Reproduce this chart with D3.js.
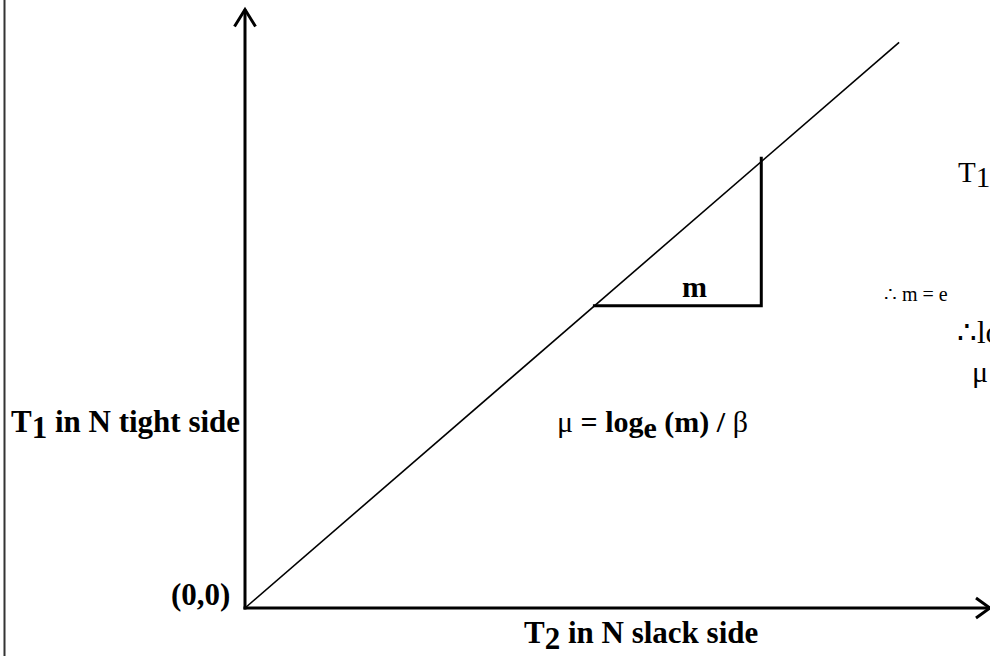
<!DOCTYPE html>
<html>
<head>
<meta charset="utf-8">
<script src="https://cdn.jsdelivr.net/npm/d3@7/dist/d3.min.js"></script>
<style>
  html, body { margin: 0; padding: 0; background: #fff; overflow: hidden; }
  svg { display: block; }
  text { font-family: "Liberation Serif", "Times New Roman", serif; fill: #000; }
</style>
</head>
<body>
<svg id="chart" width="990" height="656"></svg>
<script>
// ---- data (diagram units: T2 on x, T1 on y) ----
const lineT2 = [0, 87.8];          // straight line T1 = m * T2 through origin
const lineT1 = [0, 94.5];
const triT2 = [46.7, 69.3, 69.3];  // slope triangle corners
const triT1 = [50.5, 50.5, 75.4];
const axisMax = [100, 100];        // axis ends (arrow tips)
const xLabel = "T2 in N slack side";
const yLabel = "T1 in N tight side";

const svg = d3.select("#chart");
const W = 990, H = 656;

const x = d3.scaleLinear().domain([0, 100]).range([245, 990]);
const y = d3.scaleLinear().domain([0, 100]).range([608, 9.5]);

// left frame line
svg.append("line").attr("x1", 4.5).attr("x2", 4.5).attr("y1", 0).attr("y2", H)
  .attr("stroke", "#333").attr("stroke-width", 2);

// axes
const axG = svg.append("g").attr("stroke", "#000").attr("stroke-width", 3).attr("fill", "none")
  .attr("stroke-linecap", "butt");
axG.append("line").attr("x1", x(0)).attr("y1", y(0) + 1.5).attr("x2", x(0)).attr("y2", y(axisMax[1]));
axG.append("line").attr("x1", x(0) - 1.5).attr("y1", y(0)).attr("x2", x(axisMax[0])).attr("y2", y(0));
// arrow heads (open chevrons)
axG.append("path").attr("d", d3.line()([[x(0) - 10.5, y(axisMax[1]) + 17], [x(0), y(axisMax[1])], [x(0) + 10.5, y(axisMax[1]) + 17]]));
axG.append("path").attr("d", d3.line()([[x(axisMax[0]) - 14, y(0) - 10], [x(axisMax[0]), y(0)], [x(axisMax[0]) - 14, y(0) + 10]]));

// main line
svg.append("path")
  .datum(lineT2.map((d, i) => [d, lineT1[i]]))
  .attr("d", d3.line().x(d => x(d[0])).y(d => y(d[1])))
  .attr("stroke", "#000").attr("stroke-width", 1.6).attr("fill", "none");

// slope triangle
svg.append("path")
  .datum(triT2.map((d, i) => [d, triT1[i]]))
  .attr("d", d3.line().x(d => x(d[0])).y(d => y(d[1])))
  .attr("stroke", "#000").attr("stroke-width", 3).attr("fill", "none")
  .attr("stroke-linejoin", "miter");

// labels
function subText(g, xp, yp, main, sub, rest, size, weight) {
  const t = g.append("text").attr("x", xp).attr("y", yp)
    .attr("font-size", size).attr("font-weight", weight);
  t.append("tspan").text(main);
  t.append("tspan").attr("dy", 6).text(sub);
  if (rest) t.append("tspan").attr("dy", -6).text(rest);
  return t;
}
subText(svg, 11, 432, yLabel[0], yLabel[1], yLabel.slice(2), 31, "bold");
subText(svg, 524, 643, xLabel[0], xLabel[1], xLabel.slice(2), 31, "bold");
svg.append("text").attr("x", 171).attr("y", 605).attr("font-size", 31).attr("font-weight", "bold").text("(0,0)");

svg.append("text").attr("x", 682).attr("y", 297).attr("font-size", 30).attr("font-weight", "bold").text("m");

// formula
const f = svg.append("text").attr("x", 557).attr("y", 432).attr("font-size", 30);
f.append("tspan").text("μ");
f.append("tspan").attr("font-weight", "bold").text(" = log");
f.append("tspan").attr("font-weight", "bold").attr("dy", 6).text("e");
f.append("tspan").attr("font-weight", "bold").attr("dy", -6).text(" (m) / ");
f.append("tspan").text("β");

// right-side derivation (cut off by page edge, as in the reference)
const r1 = svg.append("text").attr("x", 958).attr("y", 182).attr("font-size", 29);
r1.append("tspan").text("T");
r1.append("tspan").attr("dy", 5).text("1");
svg.append("text").attr("x", 884).attr("y", 301).attr("font-size", 20).text("∴ m = e");
svg.append("text").attr("x", 957).attr("y", 343).attr("font-size", 31).text("∴log");
svg.append("text").attr("x", 972).attr("y", 382).attr("font-size", 30).text("μ");
</script>
</body>
</html>
